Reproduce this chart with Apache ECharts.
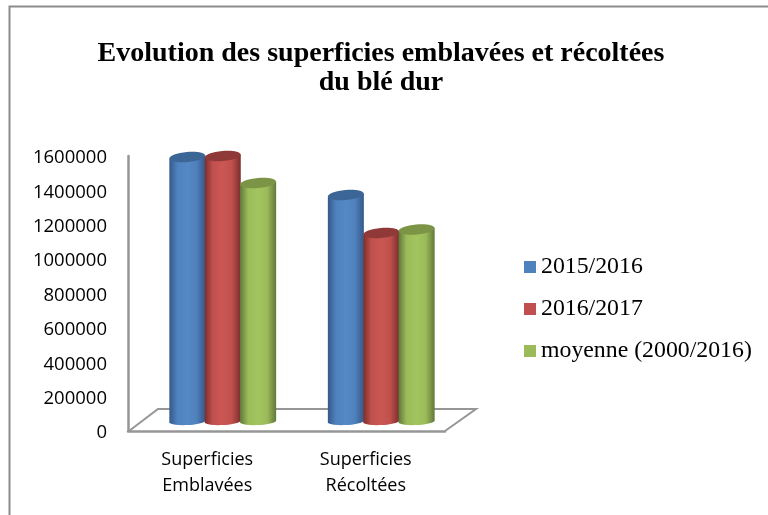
<!DOCTYPE html>
<html><head><meta charset="utf-8">
<style>html,body{margin:0;padding:0;background:#fff}#c{width:768px;height:515px}</style>
<script src="https://cdn.jsdelivr.net/npm/echarts@6/dist/echarts.min.js"></script>
</head><body><div id="c"></div>
<script>
const categories = ['Superficies\nEmblavées', 'Superficies\nRécoltées'];
const seriesNames = ['2015/2016', '2016/2017', 'moyenne (2000/2016)'];
const values2015 = [1536000, 1315000];
const values2016 = [1542000, 1094000];
const valuesMoyenne = [1385000, 1114000];
const valueTicks = [0, 200000, 400000, 600000, 800000, 1000000, 1200000, 1400000, 1600000];
const titleLines = 'Evolution des superficies emblavées et récoltées\ndu blé dur';

const palette = [
  {main:'#4f81bd', dark:'#34598a', top:'#3c6696', mid:'#5489c6'},
  {main:'#c0504d', dark:'#7a2e2c', top:'#8f3a38', mid:'#cb5754'},
  {main:'#9bbb59', dark:'#62793a', top:'#7b9446', mid:'#a2c55f'}
];
const shiftX = 15.5, shiftY = 10, barW = 36, pitch = 35.4, ry = 5, tilt = 1.5;

function cylinder(i){
  return function(params, api){
    const idx = api.value(0);
    const base = api.coord([idx, 0]);
    const top = api.coord([idx, api.value(1)]);
    const cx = base[0] + shiftX + (i-1)*pitch;
    const x0 = cx - barW/2, x1 = cx + barW/2;
    const yb = base[1] - shiftY + 1, yt = top[1] - shiftY;
    const c = palette[i];
    const body = 'M'+x0+' '+(yt+tilt)+' L'+x0+' '+(yb+1)+
      ' C'+(x0+4)+' '+(yb+3.2)+' '+(cx-6)+' '+(yb+3.2)+' '+cx+' '+(yb+3)+
      ' C'+(cx+8)+' '+(yb+2.8)+' '+(x1-3)+' '+(yb+1.5)+' '+x1+' '+(yb-1)+
      ' L'+x1+' '+(yt-tilt)+' Z';
    return {type:'group',children:[
      {type:'path',shape:{pathData:body,layout:'cover',x:x0,y:yt-tilt,width:barW,height:yb+3.2-yt+tilt},
       style:{fill:new echarts.graphic.LinearGradient(0,0,1,0,[
         {offset:0,color:c.dark},{offset:.22,color:c.main},{offset:.5,color:c.mid},{offset:.75,color:c.main},{offset:1,color:c.dark}])}},
      {type:'ellipse',shape:{cx:cx,cy:yt,rx:barW/2,ry:ry},rotation:Math.atan2(tilt*2,barW),originX:cx,originY:yt,style:{fill:c.top}}
    ]};
  };
}
const allValues = [values2015, values2016, valuesMoyenne];
const chart = echarts.init(document.getElementById('c'), null, {renderer:'canvas'});
chart.setOption({
  backgroundColor:'#fff',
  animation:false,
  title:{text:titleLines,left:376,top:34,textAlign:'center',
    textStyle:{fontFamily:'Liberation Serif',fontWeight:'bold',fontSize:28,color:'#000',lineHeight:29}},
  legend:{orient:'vertical',left:524,top:255,itemWidth:12,itemHeight:12,itemGap:18,
    icon:'rect',data:seriesNames.map((n,i)=>({name:n,itemStyle:{color:palette[i].main}})),
    textStyle:{fontFamily:'Liberation Serif',fontSize:23.8,lineHeight:24,color:'#000'},padding:0},
  grid:{left:128,right:323,top:156,bottom:84},
  xAxis:{type:'category',data:categories,
    axisLine:{lineStyle:{color:'#969696',width:2.5}},axisTick:{show:false},
    axisLabel:{fontFamily:'Open Sans',fontSize:18,color:'#000',lineHeight:26,margin:16}},
  yAxis:{type:'value',min:0,max:1600000,interval:200000,
    axisLine:{show:true,lineStyle:{color:'#969696',width:2.5}},axisTick:{show:false},splitLine:{show:false},
    axisLabel:{color:'#000',margin:21,customValues:valueTicks,
      formatter:v=>'{n|'+v+'}',
      rich:{n:{fontFamily:'Open Sans',fontSize:18.5,color:'#000',padding:[4,0,0,0]}}}},
  graphic:[{type:'polyline',z:1,shape:{points:[[129,431],[158,409],[476,409],[445,431]]},
    style:{stroke:'#969696',lineWidth:2,fill:'none'}},
    {type:'rect',z:0,shape:{x:9.5,y:6.5,width:780,height:520},style:{stroke:'#8c8c8c',lineWidth:2,fill:'none'}}],
  series:seriesNames.map((n,i)=>({
    name:n,type:'custom',z:5,itemStyle:{color:palette[i].main},
    renderItem:cylinder(i),
    encode:{x:0,y:1},
    data:allValues[i].map((v,j)=>[j,v])
  }))
});
</script></body></html>
